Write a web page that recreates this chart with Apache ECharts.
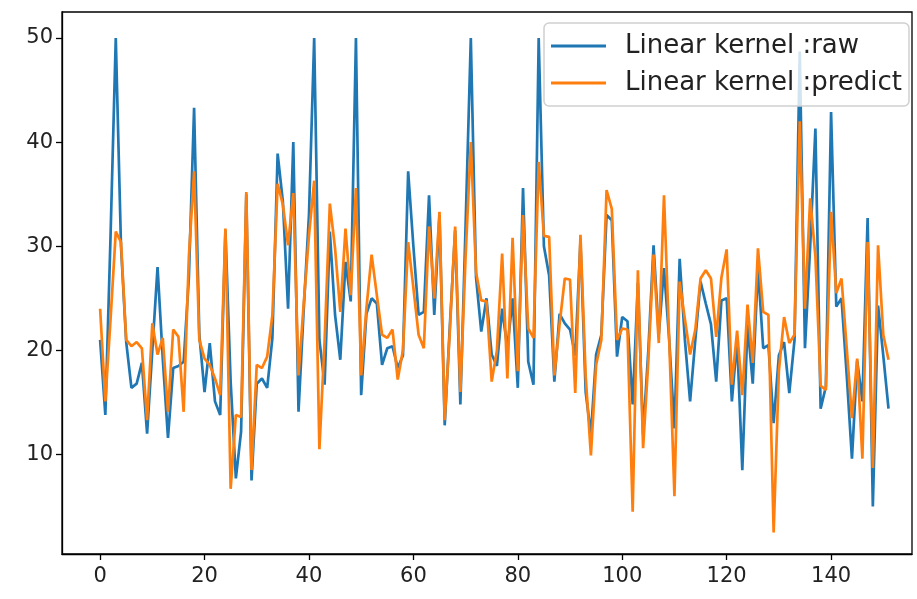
<!DOCTYPE html>
<html><head><meta charset="utf-8">
<script src="https://cdn.jsdelivr.net/npm/echarts@6/dist/echarts.min.js"></script>
<style>html,body{margin:0;padding:0;background:#fff}#c{width:917px;height:599px}</style>
</head><body><div id="c"></div>
<script>
const raw = [21.0,13.8,31,50,30,20.8,16.4,16.8,18.8,12.0,
20,28.0,19.2,11.6,18.3,18.5,18.9,27,43.3,21.5,
16.0,20.7,15.1,13.8,31.5,17,7.7,12.2,35.0,7.5,
16.8,17.3,16.4,21.2,38.9,34.3,24.0,40.0,14.1,24,
33,50,21,16.7,31.4,23.4,19.1,28.5,24.7,50,
15.7,23.5,25.0,24.5,18.6,20.2,20.4,18.3,19.5,37.2,
30,23.4,23.7,34.9,23.4,33,12.8,22.5,31.5,14.8,
32,50,27,21.8,25.0,19.6,18.5,24.0,20.2,25.0,
16.4,35.6,18.9,16.7,50,30,27.2,17.0,23.5,22.6,
22.0,19.5,30.5,16,11.9,19.6,21.5,33.0,32.5,19.4,
23.2,22.8,14.8,26.5,11.9,20,30.1,21.5,27.9,21,
12.5,28.8,21,15.1,21,26.6,24.5,22.5,17.0,24.8,
25,15.1,21,8.5,22.5,16.8,28,20.2,20.5,13,
19.5,20.8,15.9,21,48.7,20.2,30,41.3,14.4,16.5,
42.9,24.2,25,17.6,9.6,19,15.1,32.7,5.0,24.3,
19.5,14.4];
const predict = [24.0,15.1,23,31.4,30.4,21.0,20.4,20.8,20.2,13.3,
22.6,19.6,21.2,14.1,22.0,21.3,14.1,29,37.2,21.0,
19.2,18.6,17.3,15.7,31.7,6.7,13.8,13.6,35.2,8.5,
18.6,18.3,19.4,23.4,36.0,34.0,30.1,35.1,17.6,24.5,
31,36.3,10.5,21,34.1,29.8,23.7,31.7,25.3,35.6,
17.6,24,29.2,25.3,21.5,21.2,22.0,17.2,20,30.4,
26,21.5,20.2,31.9,25,33.3,13.3,22,31.9,16.0,
29,40.0,27.5,24.8,24.7,17.0,20,29.3,17.3,30.8,
18,33.0,22.1,21.2,38.1,31,30.9,17.6,22.5,26.9,
26.8,15.9,31.1,17.5,9.9,18.6,21.0,35.4,33.6,21.0,
22.1,22.0,4.5,27.7,10.6,19,29.2,20.7,34.9,21,
6.0,26.6,23,19.6,22,26.9,27.7,26.9,21.3,27,
29.7,16.7,21.9,15.7,24.4,18.8,29.8,23.7,23.4,2.5,
18,23.2,20.7,21.5,42.0,24,34.6,29,16.6,16.2,
33.3,25.5,26.9,20.2,13.5,19.2,9.6,30.4,8.7,30.1,
21.5,19.1];
const seriesNames = ['Linear kernel :raw', 'Linear kernel :predict'];
const xTicks = [0,20,40,60,80,100,120,140];
const yTicks = [10,20,30,40,50];

const toPairs = arr => arr.map((v, i) => [i, v]);
const font = 'DejaVu Sans';
const chart = echarts.init(document.getElementById('c'), null, {renderer: 'canvas'});
chart.setOption({
  animation: false,
  backgroundColor: '#fff',
  grid: {left: 62, right: 5, top: 12, bottom: 45, show: true, borderColor: '#000', borderWidth: 1.3, backgroundColor: 'transparent'},
  xAxis: {
    type: 'value', min: -7.3, max: 155.5,
    splitLine: {show: false},
    axisLine: {show: true, onZero: false, lineStyle: {color: '#000', width: 1.3}},
    axisTick: {show: true, customValues: xTicks, length: 6, lineStyle: {color: '#000', width: 1.3}},
    axisLabel: {customValues: xTicks, fontFamily: font, fontSize: 21, color: '#222', margin: 12}
  },
  yAxis: {
    type: 'value', min: 0.44, max: 52.5,
    splitLine: {show: false},
    axisLine: {show: true, onZero: false, lineStyle: {color: '#000', width: 1.3}},
    axisTick: {show: true, customValues: yTicks, length: 6, lineStyle: {color: '#000', width: 1.3}},
    axisLabel: {customValues: yTicks, fontFamily: font, fontSize: 21, color: '#222', margin: 9}
  },
  legend: {
    orient: 'vertical', left: 544, top: 23,
    backgroundColor: 'rgba(255,255,255,0.8)', borderColor: '#d0d0d0', borderWidth: 1.5, borderRadius: 5,
    padding: [10, 7, 10, 7], itemGap: 11, itemWidth: 55, itemHeight: 3, icon: 'rect',
    textStyle: {fontFamily: font, fontSize: 26, color: '#222', padding: [0, 0, 0, 14]},
    data: seriesNames
  },
  series: [
    {name: seriesNames[0], type: 'line', data: toPairs(raw), symbol: 'none', color: '#1f77b4', lineStyle: {width: 2.7, color: '#1f77b4'}},
    {name: seriesNames[1], type: 'line', data: toPairs(predict), symbol: 'none', color: '#ff7f0e', lineStyle: {width: 2.7, color: '#ff7f0e'}}
  ]
});
</script>
</body></html>
